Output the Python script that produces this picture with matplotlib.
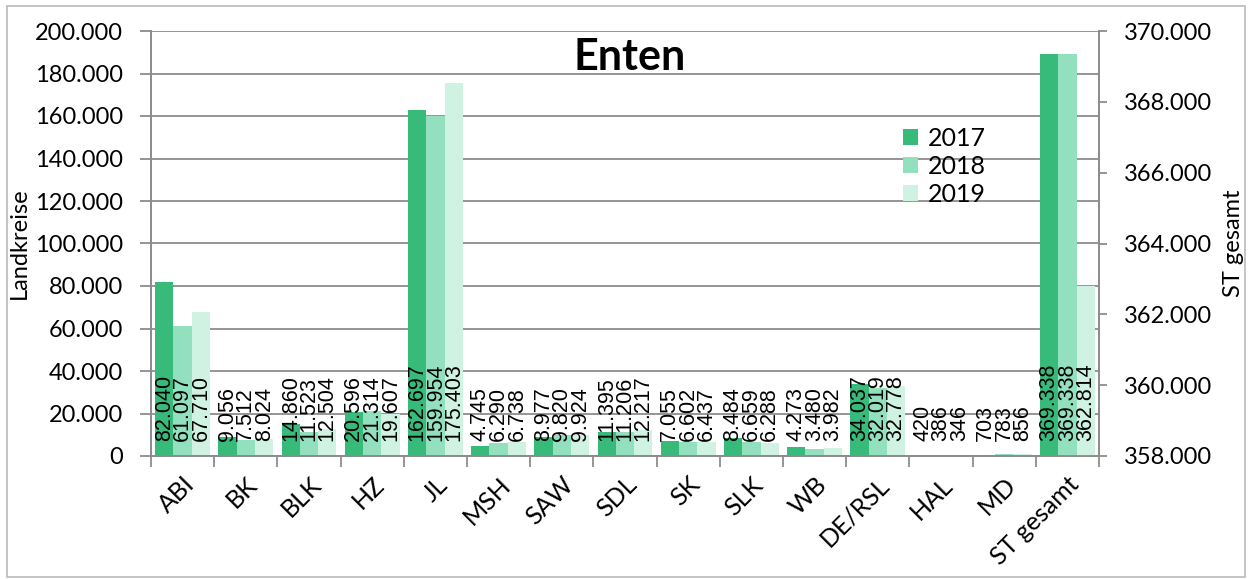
import matplotlib.pyplot as plt
import numpy as np
from matplotlib.patches import Rectangle
from matplotlib.ticker import FuncFormatter, FixedLocator
import matplotlib.transforms as mtransforms

# Daten
kategorien = ['ABI', 'BK', 'BLK', 'HZ', 'JL', 'MSH', 'SAW', 'SDL', 'SK', 'SLK',
              'WB', 'DE/RSL', 'HAL', 'MD', 'ST gesamt']
jahre = ['2017', '2018', '2019']
werte_2017 = [82040, 9056, 14860, 20596, 162697, 4745, 8977, 11395, 7055, 8484,
              4273, 34037, 420, 703, 369338]
werte_2018 = [61097, 7512, 11523, 21314, 159954, 6290, 9820, 11206, 6602, 6659,
              3480, 32019, 386, 783, 369338]
werte_2019 = [67710, 8024, 12504, 19607, 175403, 6738, 9924, 12217, 6437, 6288,
              3982, 32778, 346, 856, 362814]
farben = ['#38bb7a', '#92e0be', '#cff2e2']

plt.rcParams['font.family'] = ['Lato', 'DejaVu Sans']
grau = '#8c8c8c'


def fmt(v, pos=None):
    return f"{v:,.0f}".replace(',', '.')


fig = plt.figure(figsize=(12.51, 5.79), dpi=100)
ax = fig.add_axes([151 / 1251, 1 - 456 / 579, 948 / 1251, 425 / 579])
ax2 = ax.twinx()

n = len(kategorien)
x = np.arange(n)
breite = 0.29
alle = [werte_2017, werte_2018, werte_2019]

# Landkreise auf der linken Achse, "ST gesamt" auf der rechten
for i, (serie, farbe) in enumerate(zip(alle, farben)):
    off = (i - 1) * breite
    ax.bar(x[:-1] + off, serie[:-1], width=breite, color=farbe, zorder=2,
           label=jahre[i])
    ax2.bar(x[-1:] + off, serie[-1:], width=breite, color=farbe, zorder=2)

# Datenbeschriftungen
trans = mtransforms.blended_transform_factory(ax2.transData, ax2.transAxes)
for i, serie in enumerate(alle):
    off = (i - 1) * breite
    for xi, v in zip(x, serie):
        ax2.text(xi + off, 0.035, fmt(v), rotation=90, ha='center', va='bottom',
                 fontsize=15.5, family=['Liberation Sans'], transform=trans,
                 zorder=5)

ax.set_xlim(-0.5, n - 0.5)
ax.set_ylim(0, 200000)
ax2.set_ylim(358000, 370000)
ax.set_yticks(np.arange(0, 200001, 20000))
ax2.set_yticks(np.arange(358000, 370001, 2000))
ax.yaxis.set_major_formatter(FuncFormatter(fmt))
ax2.yaxis.set_major_formatter(FuncFormatter(fmt))
ax.grid(axis='y', color=grau, linewidth=1.3, zorder=0)
ax.set_axisbelow(True)

ax.set_xticks(x)
ax.set_xticklabels(kategorien, rotation=45, ha='right', rotation_mode='anchor',
                   fontsize=18)
ax.xaxis.set_minor_locator(FixedLocator(np.arange(-0.5, n, 1.0)))
ax.tick_params(axis='x', which='major', length=0, pad=12)
ax.tick_params(axis='x', which='minor', length=8, color=grau, width=1.3)
ax.tick_params(axis='y', length=8, color=grau, width=1.3, labelsize=17, pad=12)
ax2.tick_params(axis='y', length=6, color=grau, width=1.3, labelsize=17, pad=12)

for a in (ax, ax2):
    a.spines['top'].set_visible(False)
    for s in ('left', 'right', 'bottom'):
        a.spines[s].set_color(grau)
        a.spines[s].set_linewidth(1.3)

ax.set_ylabel('Landkreise', fontsize=17)
ax.yaxis.set_label_coords(-0.128, 0.5)
ax2.set_ylabel('ST gesamt', fontsize=17)
ax2.yaxis.set_label_coords(1.131, 0.5)

ax.text(0.505, 0.94, 'Enten', transform=ax.transAxes, ha='center', va='center',
        fontsize=31, fontweight='bold')

ax.legend(loc='upper left', bbox_to_anchor=(880 / 1251, 1 - 104 / 579),
          bbox_transform=fig.transFigure, frameon=False, fontsize=18,
          handlelength=0.6, handleheight=0.6, handletextpad=0.4,
          labelspacing=0.2)

# Rahmen um die ganze Grafik
fig.patches.append(Rectangle((7 / 1251, 2 / 579), 1238 / 1251, 571 / 579,
                             transform=fig.transFigure, fill=False,
                             edgecolor='#bfbfbf', linewidth=1.3))

fig.savefig('out.png', dpi=100)
